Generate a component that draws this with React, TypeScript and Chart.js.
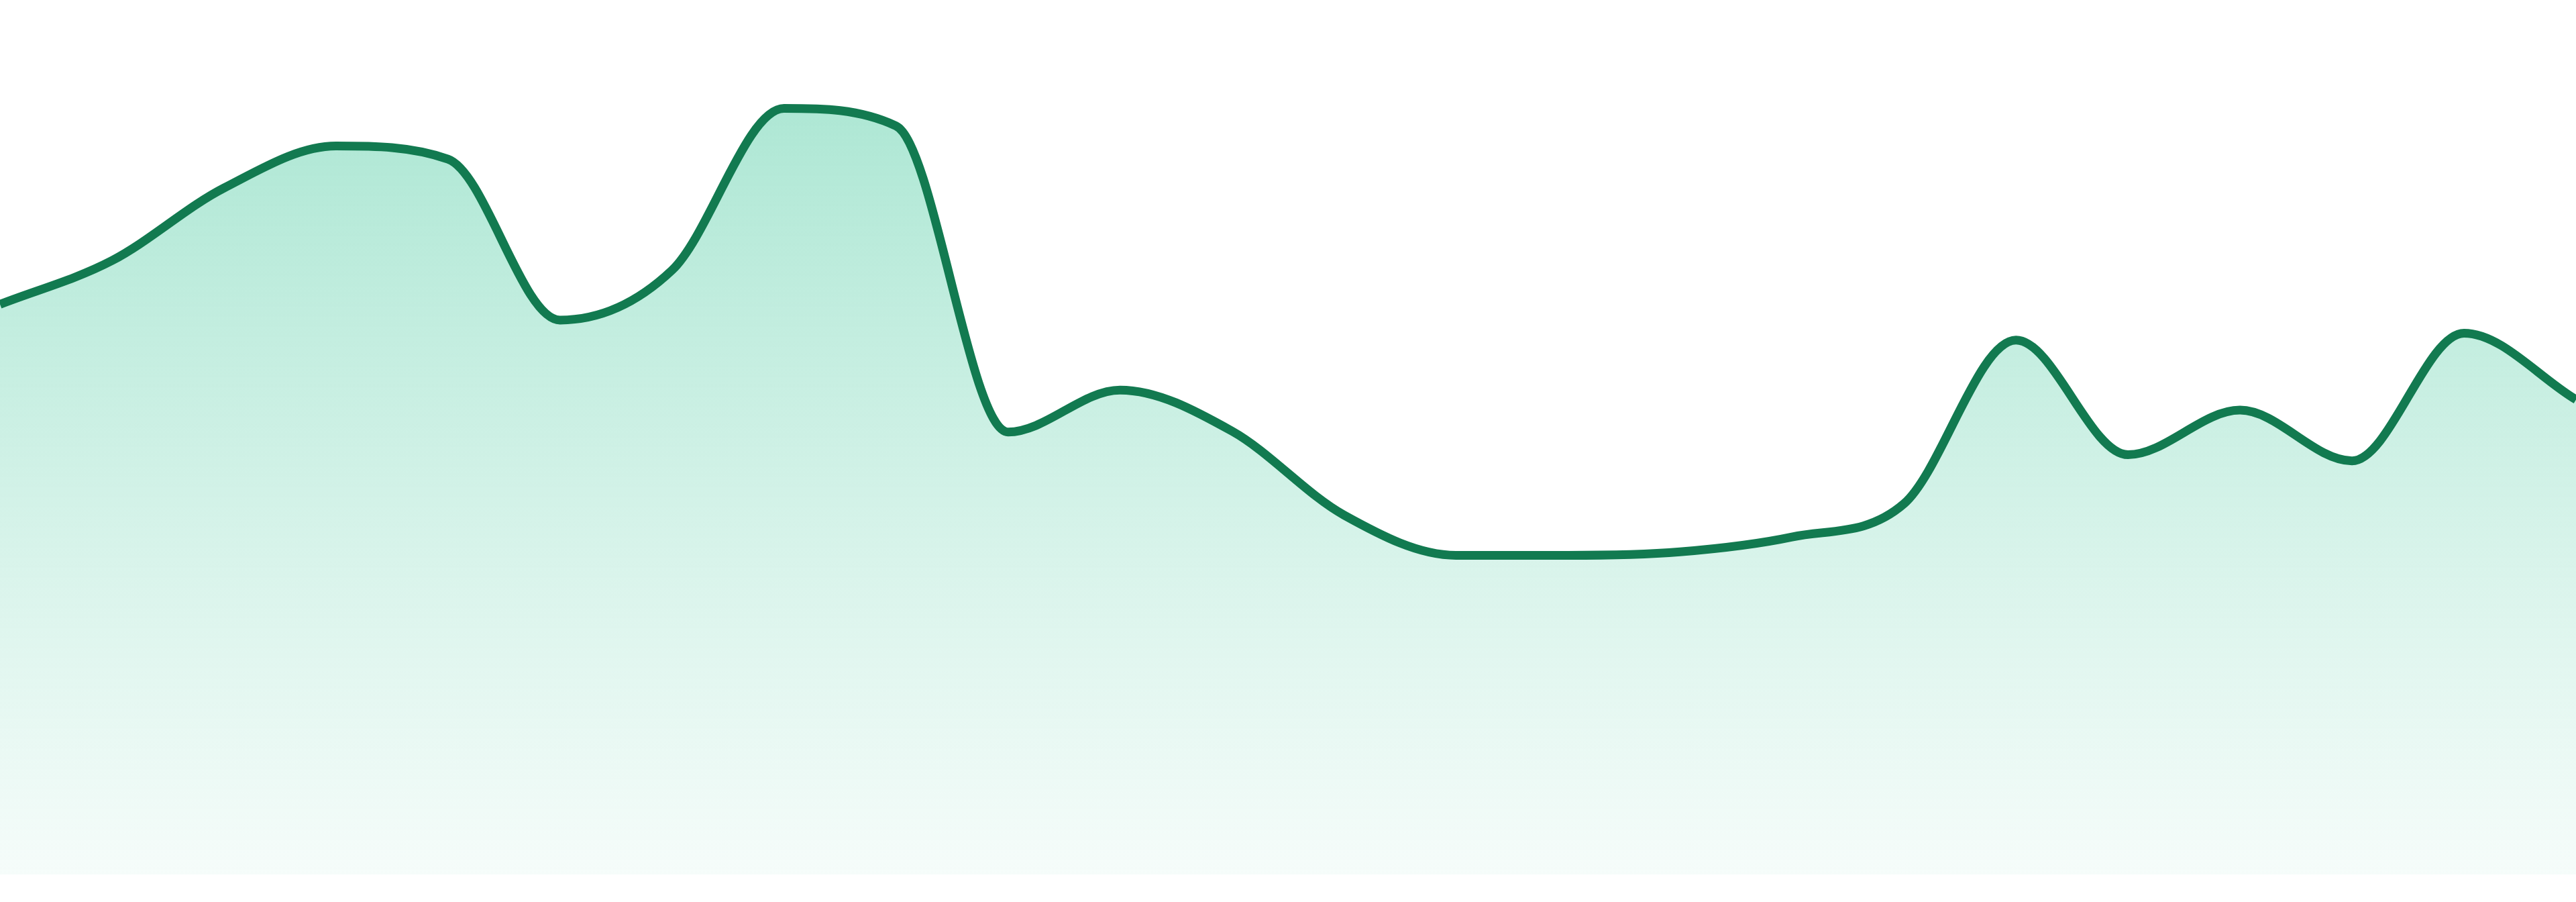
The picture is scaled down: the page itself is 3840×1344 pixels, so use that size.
import React, { useEffect, useRef } from "react";
import { Chart, registerables } from "chart.js";

Chart.register(...registerables);

const categories: string[] = [
  "1", "2", "3", "4", "5", "6", "7", "8", "9", "10", "11", "12",
  "13", "14", "15", "16", "17", "18", "19", "20", "21", "22", "23", "24",
];

const seriesValues: number[] = [
  65.2, 70.2, 78.5, 83.3, 81.8, 63.4, 69.1, 87.6, 85.6, 50.6, 55.4, 50.7,
  41.1, 36.5, 36.5, 36.9, 38.6, 42.4, 61.1, 48.0, 53.1, 47.3, 61.9, 54.3,
];

const yMin = 0;
const yMax = 100;

const LINE_COLOR = "#127a50";

export default function App() {
  const canvasRef = useRef<HTMLCanvasElement | null>(null);

  useEffect(() => {
    document.body.style.margin = "0";
    const canvas = canvasRef.current;
    if (!canvas) return;
    const chart = new Chart(canvas, {
      type: "line",
      data: {
        labels: categories,
        datasets: [
          {
            data: seriesValues,
            borderColor: LINE_COLOR,
            borderWidth: 13,
            cubicInterpolationMode: "monotone",
            pointRadius: 0,
            pointHoverRadius: 0,
            fill: "start",
            backgroundColor: (context: any) => {
              const { ctx, chartArea } = context.chart;
              if (!chartArea) return "rgba(16,185,129,0.2)";
              const g = ctx.createLinearGradient(0, chartArea.top, 0, chartArea.bottom);
              g.addColorStop(0, "rgba(16,185,129,0.38)");
              g.addColorStop(1, "rgba(16,185,129,0.04)");
              return g;
            },
          },
        ],
      },
      options: {
        animation: false,
        responsive: true,
        maintainAspectRatio: false,
        layout: { padding: { left: 0, right: 0, top: 0, bottom: 41 } },
        plugins: {
          legend: { display: false },
          tooltip: { enabled: false },
        },
        scales: {
          x: { type: "category", display: false, offset: false },
          y: { display: false, min: yMin, max: yMax },
        },
      },
    });
    return () => chart.destroy();
  }, []);

  return (
    <div style={{ position: "fixed", left: 0, top: 0, width: "3840px", height: "1344px", background: "#ffffff" }}>
      <canvas ref={canvasRef} />
    </div>
  );
}
